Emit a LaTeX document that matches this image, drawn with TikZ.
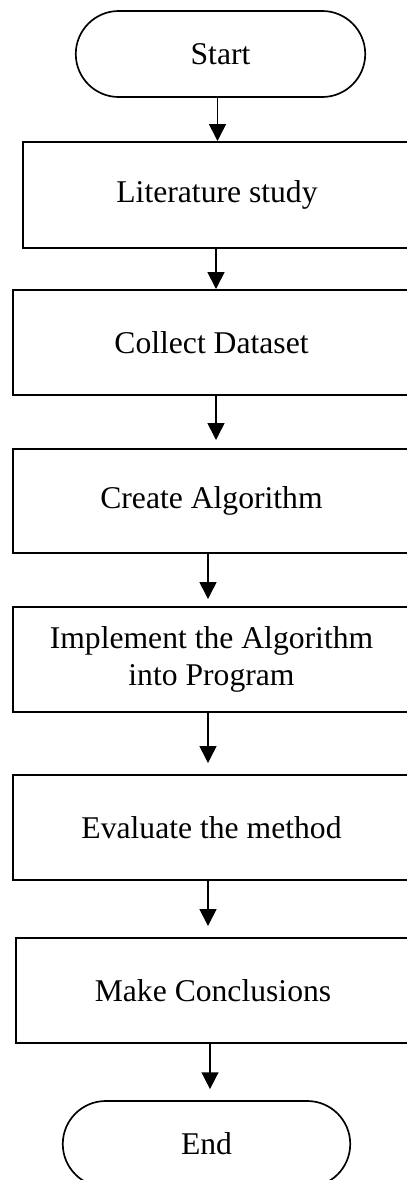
\documentclass[tikz,border=0pt]{standalone}
\usepackage{fontspec}
\setmainfont{Liberation Serif}
\usetikzlibrary{arrows.meta,shapes.misc}

\tikzset{
  stepbox/.style={draw,line width=1.4pt,rectangle,align=center,inner sep=2pt,
    font=\fontsize{22.5}{25.8}\selectfont},
  termbox/.style={stepbox,rounded rectangle,line width=1.2pt},
  flowarrow/.style={-{Triangle[width=12pt,length=12pt]},line width=1.1pt}
}

\begin{document}
\begin{tikzpicture}[x=0.025cm,y=-0.025cm]
  \clip (0,0) rectangle (407,1180);
  \fill[white] (0,0) rectangle (407,1180);

  % terminals
  \node[termbox,minimum width=7.375cm,minimum height=2.15cm] (start) at (220.5,54) {Start};
  \node[termbox,minimum width=7.325cm,minimum height=2.15cm] (finish) at (206.5,1144) {End};

  % process steps
  \node[stepbox,minimum width=9.7cm,minimum height=2.65cm] (lit) at (217,195) {Literature study};
  \node[stepbox,minimum width=9.925cm,minimum height=2.625cm] (data) at (211.5,342.5) {Collect Dataset};
  \node[stepbox,minimum width=9.925cm,minimum height=2.6cm] (algo) at (211.5,501) {Create Algorithm};
  \node[stepbox,minimum width=9.925cm,minimum height=2.625cm] (impl) at (211.5,659.5) {Implement the Algorithm\\into Program};
  \node[stepbox,minimum width=9.925cm,minimum height=2.625cm] (eval) at (211.5,827.5) {Evaluate the method};
  \node[stepbox,minimum width=9.85cm,minimum height=2.625cm] (concl) at (213,990.5) {Make Conclusions};

  % connectors
  \foreach \a/\b/\dx/\g in {start/lit/-3/0,lit/data/-1/0,data/algo/4.5/8,algo/impl/-3.5/7,
                            impl/eval/-3.5/11,eval/concl/-3.5/11,concl/finish/-3/11}{
    \draw[flowarrow,shorten >=\g*0.025cm] ([xshift=\dx*0.025cm]\a.south) -- ([xshift=\dx*0.025cm]\a.south |- \b.north);
  }
\end{tikzpicture}
\end{document}
